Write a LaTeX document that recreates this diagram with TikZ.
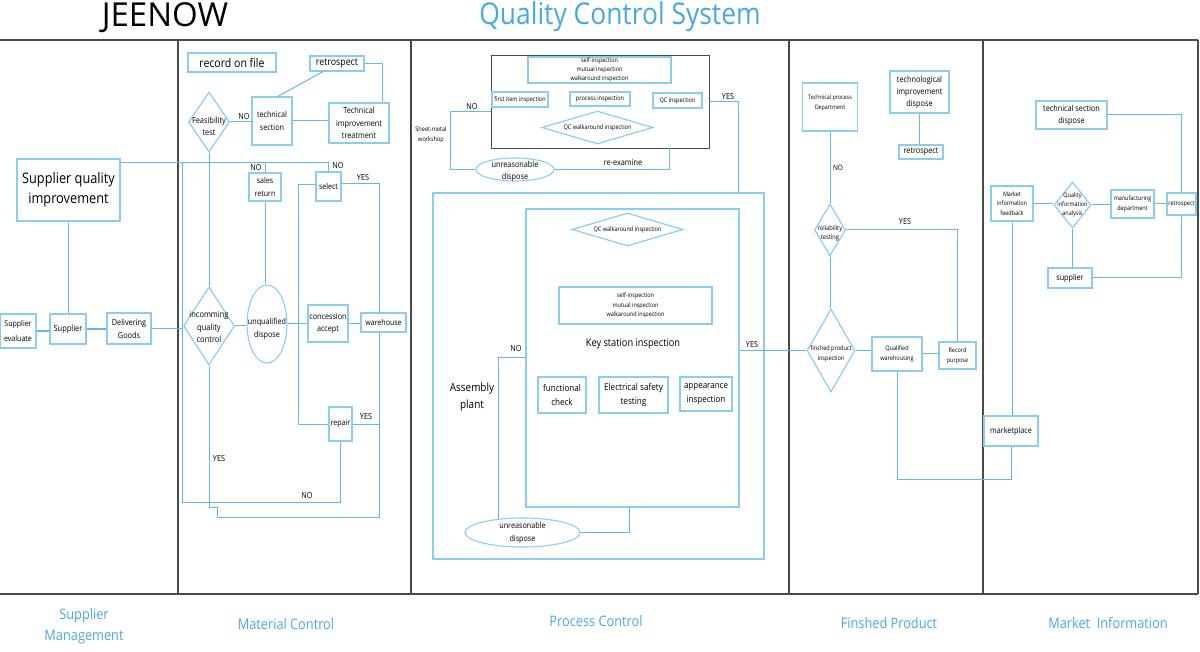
\documentclass[tikz,border=0pt]{standalone}
\usepackage{fontspec}
\setmainfont{Open Sans}[FakeStretch=0.88]
\newfontfamily\titlefont{Open Sans}
\usetikzlibrary{shapes.geometric,calc}
\definecolor{lineblue}{RGB}{100,184,228}
\definecolor{boxblue}{RGB}{140,204,238}
\definecolor{titleblue}{RGB}{72,170,222}
\definecolor{framegray}{RGB}{75,75,75}
\newcommand{\fsz}[2]{\fontsize{#1}{#2}\selectfont}
\begin{document}
\begin{tikzpicture}[x=1pt,y=-1pt,
 bx/.style={draw=boxblue, line width=1.3pt, rectangle, inner sep=0pt, align=center, text=black},
 dia/.style={draw=boxblue, line width=1.2pt, diamond, inner sep=0pt},
 ell/.style={draw=boxblue, line width=1.1pt, ellipse, inner sep=0pt},
 ln/.style={draw=lineblue, line width=1pt},
 fr/.style={draw=framegray, line width=1.3pt},
 tag/.style={inner sep=0pt, font=\fsz{8.3}{9}, text=black},
 txt/.style={inner sep=0pt, align=center, text=black},
 foot/.style={inner sep=0pt, align=center, text=titleblue, font=\fsz{14.5}{21}},
]
\useasboundingbox (0,0) rectangle (1200,652);

% ---------- titles ----------
\node[inner sep=0pt, anchor=base, font=\titlefont\fsz{33}{36}] (ttl1) at (165,27) {JEENOW};
\node[inner sep=0pt, anchor=base, text=titleblue, font=\fsz{30}{34}] (ttl2) at (620,25) {Quality Control System};

% ---------- frame ----------
\draw[fr] (0,40) -- (1198,40);
\draw[fr] (0,594) -- (1198,594);
\foreach \xx in {178,411,789,983,1198} \draw[fr] (\xx,40) -- (\xx,594);

% ---------- footer labels ----------
\node[foot] (f1) at (84,626) {Supplier\\Management};
\node[foot] (f2) at (286,624) {Material Control};
\node[foot] (f3) at (596,621) {Process Control};
\node[foot] (f4) at (889,623) {Finshed Product};
\node[foot] (f5) at (1108,623) {Market\ \ Information};

% ---------- supplier management ----------
\node[bx, minimum width=103pt, minimum height=62pt, font=\fsz{14.5}{20}] (sqi) at (68.5,190) {Supplier quality\\ improvement};
\node[bx, minimum width=36pt, minimum height=34pt, font=\fsz{8}{16}] (eval) at (18,331) {Supplier\\evaluate};
\node[bx, minimum width=36pt, minimum height=30pt, font=\fsz{8.5}{12}] (sup) at (68,329) {Supplier};
\node[bx, minimum width=44pt, minimum height=31pt, font=\fsz{8.3}{13}] (del) at (129,328.5) {Delivering\\Goods};

% ---------- material control ----------
\node[bx, minimum width=88pt, minimum height=19pt, font=\fsz{12}{14}] (rof) at (232,62.5) {record on file};
\node[bx, minimum width=54pt, minimum height=15pt, font=\fsz{10}{12}] (retro) at (337,63.5) {retrospect};
\node[bx, minimum width=40pt, minimum height=48pt, font=\fsz{8.2}{12.5}] (tech) at (272,121) {technical\\section};
\node[bx, minimum width=60pt, minimum height=40pt, font=\fsz{8.3}{12.3}] (tii) at (359,123) {Technical\\improvement\\treatment};
\node[dia, minimum width=41pt, minimum height=60pt,
  label={[txt,font=\fsz{8.4}{12},yshift=-4pt]center:{Feasibility\\test}}] (feas) at (209,122) {};
\node[dia, minimum width=51pt, minimum height=78pt,
  label={[txt,font=\fsz{8.5}{12.5},yshift=-1pt]center:{incomming\\quality\\control}}] (iqc) at (209,326) {};
\node[bx, minimum width=32pt, minimum height=28pt, font=\fsz{8}{13}] (sret) at (265,187) {sales\\return};
\node[bx, minimum width=25pt, minimum height=29pt, font=\fsz{8}{10}] (sel) at (328.5,186.5) {select};
\node[ell, minimum width=40pt, minimum height=78pt,
  label={[txt,font=\fsz{8.2}{12.5},yshift=-5pt]center:{unqualified\\dispose}}] (uqd) at (267,324) {};
\node[bx, minimum width=40pt, minimum height=37pt, font=\fsz{8.2}{12.5}] (conc) at (328,323.5) {concession\\accept};
\node[bx, minimum width=45pt, minimum height=19pt, font=\fsz{8}{10}] (wh) at (383.5,322.5) {warehouse};
\node[bx, minimum width=23pt, minimum height=34pt, font=\fsz{8}{10}] (rep) at (340.5,424) {repair};

\coordinate (sqiT) at ($(sqi.north east)+(0,4)$);
\coordinate (m1) at (182,163);
\coordinate (m2) at (182,502);
\coordinate (whN) at ($(wh.north)+(-4.5,0)$);
\coordinate (whS) at ($(wh.south)+(-4.5,0)$);
\coordinate (w1) at (217,517);
\coordinate (w2) at (217,507);
\coordinate (w3) at (209,507);

\draw[ln, line width=2pt] (eval.east) -- (eval.east -| sup.west);
\draw[ln, line width=2pt] (sup.east) -- (sup.east -| del.west);
\draw[ln] (sqi.south) -- (sqi.south |- sup.north);
\draw[ln] (del.east) -- (del.east -| iqc.west);
\draw[ln] (sqiT) -| (sel.north);
\draw[ln] (sret.north) -- (sret.north |- sqiT);
\draw[ln] (m1) -- (m2) -| (rep.south);
\draw[ln] (feas.south) -- (iqc.north);
\draw[ln] (feas.east) -- (feas.east -| tech.west);
\draw[ln] (tech.east) -- (tech.east -| tii.west);
\draw[ln] ($(tech.north)+(6,0)$) -- ($(retro.south)+(-14,0)$);
\draw[ln] (retro.east) -| ($(tii.north east)+(-7,0)$);
\draw[ln] (sret.south) -- (sret.south |- uqd.north);
\draw[ln] (iqc.east) -- (iqc.east -| uqd.west);
\draw[ln] (uqd.east) -- (uqd.east -| conc.west);
\draw[ln] (conc.east) -- (conc.east -| wh.west);
\draw[ln] ($(sel.east)+(0,-3)$) -| (whN);
\draw[ln] ($(sel.west)+(0,-2)$) -- ++(-17,0) |- (rep.west);
\draw[ln] (rep.east) -- (rep.east -| whS);
\draw[ln] (whS) |- (w1) -- (w2) -- (w3) -- (iqc.south);

\node[tag] (t1) at (244,117) {NO};
\node[tag] (t2) at (256,168) {NO};
\node[tag] (t3) at (338,166) {NO};
\node[tag] (t4) at (363,178) {YES};
\node[tag] (t5) at (366,417) {YES};
\node[tag] (t6) at (307,496) {NO};
\node[tag] (t7) at (219,459) {YES};

% ---------- process control ----------
\node[draw=framegray, line width=0.9pt, rectangle, minimum width=218pt, minimum height=93pt, inner sep=0pt] (ws) at (600,101.5) {};
\node[bx, minimum width=143pt, minimum height=26pt, font=\fsz{6.2}{9}] (si1) at (599.5,70) {self-inspection\\mutual inspection\\walkaround inspection};
\node[bx, minimum width=56pt, minimum height=15pt, font=\fsz{6.3}{8}] (fii) at (520,99.5) {first item inspection};
\node[bx, minimum width=60pt, minimum height=14pt, font=\fsz{6.3}{8}] (pi) at (600,99) {process inspection};
\node[bx, minimum width=49pt, minimum height=15pt, font=\fsz{6.3}{8}] (qci) at (677.5,100.5) {QC inspection};
\node[dia, minimum width=111pt, minimum height=33pt,
  label={[txt,font=\fsz{6.3}{8}]center:{QC walkaround inspection}}] (qcw1) at (597.5,127.5) {};
\node[txt, font=\fsz{6.3}{10}] (sm) at (431,135) {Sheet-metal\\workshop};
\node[ell, minimum width=78pt, minimum height=23pt,
  label={[txt,font=\fsz{8.3}{12},yshift=-1.5pt]center:{unreasonable\\dispose}}] (ud1) at (515,169.5) {};

\node[draw=boxblue, line width=1.3pt, rectangle, minimum width=331pt, minimum height=366pt, inner sep=0pt] (asm) at (598.5,376) {};
\node[draw=boxblue, line width=1.3pt, rectangle, minimum width=213pt, minimum height=298pt, inner sep=0pt] (inner) at (632.5,358) {};
\node[dia, minimum width=111pt, minimum height=33pt,
  label={[txt,font=\fsz{6.3}{8}]center:{QC walkaround inspection}}] (qcw2) at (627.5,229.5) {};
\node[bx, minimum width=153pt, minimum height=37pt, font=\fsz{6.2}{9.3}] (si2) at (635.5,305.5) {self-inspection\\mutual inspection\\walkaround inspection};
\node[txt, font=\fsz{10.5}{12}] (ksi) at (633,344) {Key station inspection};
\node[bx, minimum width=48pt, minimum height=36pt, font=\fsz{9.2}{13.5}] (fc) at (562,395) {functional\\check};
\node[bx, minimum width=69pt, minimum height=36pt, font=\fsz{9.3}{13.5}] (est) at (633.5,395) {Electrical safety\\testing};
\node[bx, minimum width=52pt, minimum height=34pt, font=\fsz{9.1}{13.5}] (ai) at (706,394) {appearance\\inspection};
\node[txt, font=\fsz{11.3}{17}] (ap) at (472,397) {Assembly\\plant};
\node[ell, minimum width=115pt, minimum height=29pt,
  label={[txt,font=\fsz{8.2}{12.5},yshift=-0.5pt]center:{unreasonable\\dispose}}] (ud2) at (522.5,532.5) {};

\draw[ln] ($(ws.west)+(0,10.5)$) -- ++(-40,0) |- (ud1.west);
\draw[ln] (ud1.east) -| ($(ws.south east)+(-40,0)$);
\draw[ln] (ws.east) -| ($(asm.north east)+(-26,0)$);
\draw[ln] (inner.west) -| (ud2.150);
\draw[ln] (ud2.east) -| ($(inner.south)+(-3.5,0)$);

\node[tag] (t8) at (472,107) {NO};
\node[tag] (t9) at (728,97) {YES};
\node[tag] (t10) at (623,162) {re-examine};
\node[tag] (t11) at (516,349) {NO};
\node[tag] (t12) at (752,345) {YES};

% ---------- finished product ----------
\node[bx, minimum width=55pt, minimum height=48pt, font=\fsz{6.1}{10},
  label={[txt,font=\fsz{6.1}{10},yshift=4pt]center:{Technical process\\Department}}] (tpd) at (830,107) {};
\node[bx, minimum width=59pt, minimum height=42pt, font=\fsz{8.3}{12}] (tid) at (919.5,92) {technological\\improvement\\dispose};
\node[bx, minimum width=44pt, minimum height=14pt, font=\fsz{8.3}{10}] (ret2) at (921,152) {retrospect};
\node[dia, minimum width=31pt, minimum height=52pt,
  label={[txt,font=\fsz{6.5}{9.5},yshift=-3.5pt]center:{reliability\\testing}}] (rel) at (830,230) {};
\node[dia, minimum width=48pt, minimum height=83pt,
  label={[txt,font=\fsz{6.3}{10},yshift=-3.5pt]center:{finshed product\\inspection}}] (fpi) at (831,350.5) {};
\node[bx, minimum width=50pt, minimum height=34pt, font=\fsz{6.3}{10}] (qw) at (897,354) {Qualified\\warehousing};
\node[bx, minimum width=37pt, minimum height=27pt, font=\fsz{6.2}{10}] (rp) at (957.5,355.5) {Record\\purpose};

\draw[ln] (fpi.west -| inner.east) -- (fpi.west);
\draw[ln] (tpd.south) -- (tpd.south |- rel.north);
\draw[ln] (rel.south) -- (rel.south |- fpi.north);
\draw[ln] (rel.east) -| (rp.north);
\draw[ln] (fpi.east) -- (fpi.east -| qw.west);
\draw[ln] (qw.east) -- (qw.east -| rp.west);
\draw[ln] (tid.south) -- (tid.south |- ret2.north);

\node[tag, font=\fsz{7.4}{9}] (t13) at (838,168) {NO};
\node[tag] (t14) at (905,222) {YES};

% ---------- market information ----------
\node[bx, minimum width=71pt, minimum height=28pt, font=\fsz{8.3}{12}] (tsd) at (1071.5,115) {technical section\\dispose};
\node[bx, minimum width=42pt, minimum height=35pt, font=\fsz{6.2}{9.5}] (mif) at (1012,203.5) {Market\\information\\feedback};
\node[dia, minimum width=37pt, minimum height=46pt,
  label={[txt,font=\fsz{6.2}{8.7}]center:{Quality\\information\\analysis}}] (qia) at (1072.5,205) {};
\node[bx, minimum width=43pt, minimum height=28pt, font=\fsz{6.2}{9.5}] (md) at (1132.5,204) {manufacturing\\department};
\node[bx, minimum width=29pt, minimum height=22pt, font=\fsz{6.2}{8}] (ret3) at (1181.5,204) {retrospect};
\node[bx, minimum width=44pt, minimum height=20pt, font=\fsz{8.2}{10}] (sup2) at (1070,278) {supplier};
\node[bx, minimum width=54pt, minimum height=30pt, font=\fsz{8.2}{10}] (mkt) at (1011,431) {marketplace};

\draw[ln] (qw.south) -- ++(0,108) -| (mkt.south);
\draw[ln] (mif.south) -- (mif.south |- mkt.north);
\draw[ln] (mif.east) -- (mif.east -| qia.west);
\draw[ln] (qia.east) -- (qia.east -| md.west);
\draw[ln] (md.east) -- (md.east -| ret3.west);
\draw[ln] (tsd.east) -| (ret3.north);
\draw[ln] (ret3.south) |- (sup2.east);
\draw[ln] (qia.south) -- (qia.south |- sup2.north);
\end{tikzpicture}
\end{document}
